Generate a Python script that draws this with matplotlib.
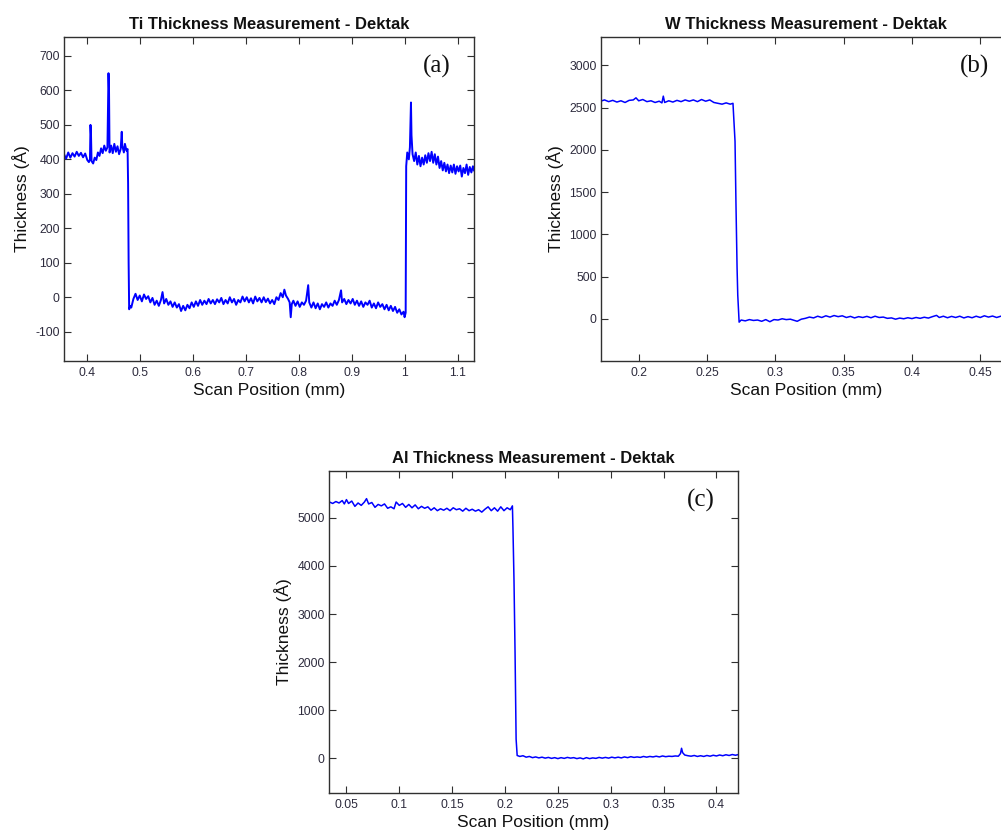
import matplotlib
matplotlib.use("Agg")
import matplotlib.pyplot as plt
from matplotlib.ticker import FixedLocator, FuncFormatter

plt.rcParams['font.family'] = ['Liberation Sans', 'DejaVu Sans']

# ---------------- Ti profile (scan position mm, thickness A) ----------------
ti_x = [0.357, 0.361, 0.365, 0.369, 0.373, 0.377, 0.381, 0.385, 0.389, 0.393,
        0.397, 0.401, 0.404, 0.406, 0.407, 0.408, 0.409, 0.412, 0.415, 0.418,
        0.421, 0.424, 0.427, 0.430, 0.433, 0.436, 0.439, 0.441, 0.442, 0.443,
        0.446, 0.449, 0.452, 0.455, 0.458, 0.461, 0.464, 0.466, 0.467, 0.470,
        0.472, 0.475, 0.477, 0.478, 0.479, 0.480, 0.482,
        0.484, 0.488, 0.492, 0.496, 0.500, 0.504, 0.508, 0.512, 0.516, 0.520,
        0.524, 0.528, 0.532, 0.536, 0.540, 0.543, 0.546, 0.550, 0.554, 0.558,
        0.562, 0.566, 0.570, 0.574, 0.578, 0.582, 0.586, 0.590, 0.594, 0.598,
        0.602, 0.606, 0.610, 0.614, 0.618, 0.622, 0.626, 0.630, 0.634, 0.638,
        0.642, 0.646, 0.650, 0.654, 0.658, 0.662, 0.666, 0.670, 0.674, 0.678,
        0.682, 0.686, 0.690, 0.694, 0.698, 0.702, 0.706, 0.710, 0.714, 0.718,
        0.722, 0.726, 0.730, 0.734, 0.738, 0.742, 0.746, 0.750, 0.754, 0.758,
        0.762, 0.766, 0.770, 0.773, 0.776, 0.780, 0.783, 0.785, 0.787, 0.790,
        0.794, 0.798, 0.802, 0.806, 0.810, 0.814, 0.818, 0.820, 0.824, 0.828,
        0.832, 0.836, 0.840, 0.844, 0.848, 0.852, 0.856, 0.860, 0.864, 0.868,
        0.872, 0.876, 0.880, 0.882, 0.886, 0.890, 0.894, 0.898, 0.902, 0.906,
        0.910, 0.914, 0.918, 0.922, 0.926, 0.930, 0.934, 0.938, 0.942, 0.946,
        0.950, 0.954, 0.958, 0.962, 0.966, 0.970, 0.974, 0.978, 0.982, 0.986,
        0.990, 0.994, 0.998, 1.000, 1.002,
        1.003, 1.005, 1.008, 1.010, 1.012, 1.013, 1.015, 1.018, 1.021, 1.024,
        1.027, 1.030, 1.033, 1.036, 1.039, 1.042, 1.045, 1.048, 1.051, 1.054,
        1.057, 1.060, 1.063, 1.066, 1.069, 1.072, 1.075, 1.078, 1.081, 1.084,
        1.087, 1.090, 1.093, 1.096, 1.099, 1.102, 1.105, 1.108, 1.111, 1.114,
        1.117, 1.120, 1.123, 1.126, 1.129, 1.131]
ti_y = [415, 402, 420, 405, 418, 408, 422, 410, 419, 406,
        417, 398, 392, 400, 500, 470, 395, 388, 405, 398,
        420, 410, 432, 418, 440, 425, 435, 650, 600, 420,
        440, 418, 445, 422, 438, 415, 430, 480, 440, 420,
        445, 425, 430, 330, 100, -35, -25,
        -30, -5, 10, -8, 5, -12, 8, -5, 3, -15,
        -2, -22, -10, -25, -8, 15, -18, -5, -22, -12,
        -28, -15, -30, -20, -40, -25, -38, -22, -32, -15,
        -28, -12, -25, -8, -22, -10, -20, -5, -18, -8,
        -20, -6, -15, -2, -20, -8, -18, 0, -15, -5,
        -22, -8, -15, 2, -12, 0, -15, -3, -18, 2,
        -12, -2, -15, 0, -14, -4, -18, -8, -20, 0,
        -8, 12, 0, 22, 5, -5, -15, -58, -20, -10,
        -25, -12, -28, -15, -22, -10, 35, -15, -30, -15,
        -32, -18, -35, -20, -28, -15, -30, -18, -25, -10,
        -22, -8, 20, -15, -5, -20, -8, -18, -5, -22,
        -10, -25, -12, -28, -15, -22, -10, -30, -18, -32,
        -15, -28, -20, -35, -22, -38, -25, -40, -28, -45,
        -35, -50, -42, -58, -45,
        380, 420, 400, 435, 565, 470, 415, 395, 420, 385,
        410, 380, 405, 385, 412, 390, 418, 395, 422, 390,
        415, 385, 408, 375, 395, 368, 390, 365, 385, 360,
        382, 362, 385, 358, 380, 365, 382, 350, 375, 360,
        385, 355, 378, 362, 380, 368]

# ---------------- W profile ----------------
w_x = [0.172, 0.175, 0.178, 0.181, 0.184, 0.187, 0.190, 0.193, 0.196, 0.198,
       0.200, 0.203, 0.206, 0.209, 0.212, 0.215, 0.217, 0.218, 0.219, 0.222,
       0.225, 0.228, 0.231, 0.234, 0.237, 0.240, 0.243, 0.246, 0.249, 0.252,
       0.255, 0.258, 0.261, 0.264, 0.267, 0.269, 0.2705, 0.2712, 0.2720, 0.2725,
       0.2735, 0.275, 0.278, 0.281, 0.284, 0.287, 0.290, 0.293, 0.296, 0.299,
       0.302, 0.305, 0.308, 0.311, 0.314, 0.316, 0.319, 0.322, 0.325, 0.328,
       0.331, 0.334, 0.337, 0.340, 0.343, 0.346, 0.349, 0.352, 0.355, 0.358,
       0.361, 0.364, 0.367, 0.370, 0.373, 0.376, 0.379, 0.382, 0.385, 0.388,
       0.391, 0.394, 0.397, 0.400, 0.403, 0.406, 0.409, 0.412, 0.415, 0.418,
       0.420, 0.423, 0.426, 0.429, 0.432, 0.435, 0.438, 0.441, 0.444, 0.447,
       0.450, 0.453, 0.456, 0.459, 0.462, 0.465, 0.468, 0.471, 0.474]
w_y = [2575, 2590, 2570, 2585, 2565, 2580, 2560, 2585, 2590, 2615,
       2580, 2595, 2570, 2580, 2560, 2575, 2555, 2635, 2560, 2580,
       2565, 2585, 2570, 2590, 2575, 2590, 2570, 2595, 2575, 2590,
       2560, 2550, 2540, 2555, 2540, 2550, 2100, 1350, 600, 280,
       -40, -15, -25, -10, -20, -15, -30, -10, -35, -10,
       -15, 0, -10, -5, -20, -30, -5, 5, 20, 10,
       30, 15, 35, 20, 38, 25, 35, 15, 28, 10,
       25, 15, 28, 12, 30, 15, 20, 5, 10, -5,
       8, 0, 12, 2, 15, 5, 18, 8, 25, 40,
       15, 30, 12, 28, 15, 30, 10, 25, 12, 30,
       15, 35, 20, 32, 15, 30, 18, 28, 20]

# ---------------- Al profile ----------------
al_x = [0.034, 0.037, 0.040, 0.043, 0.046, 0.048, 0.050, 0.052, 0.055, 0.058,
        0.061, 0.064, 0.067, 0.069, 0.071, 0.074, 0.077, 0.080, 0.083, 0.086,
        0.089, 0.092, 0.095, 0.097, 0.100, 0.103, 0.106, 0.109, 0.112, 0.115,
        0.118, 0.121, 0.124, 0.127, 0.130, 0.133, 0.136, 0.139, 0.142, 0.145,
        0.148, 0.151, 0.154, 0.157, 0.160, 0.163, 0.166, 0.169, 0.172, 0.175,
        0.178, 0.181, 0.184, 0.187, 0.190, 0.193, 0.196, 0.199, 0.202, 0.205,
        0.207, 0.2075, 0.2085, 0.2095, 0.2105, 0.2115, 0.214, 0.217, 0.220, 0.223,
        0.226, 0.229, 0.232, 0.235, 0.238, 0.241, 0.244, 0.247, 0.250, 0.253,
        0.256, 0.259, 0.262, 0.265, 0.268, 0.271, 0.274, 0.277, 0.280, 0.283,
        0.286, 0.289, 0.292, 0.295, 0.298, 0.301, 0.304, 0.307, 0.310, 0.313,
        0.316, 0.319, 0.322, 0.325, 0.328, 0.331, 0.334, 0.337, 0.340, 0.343,
        0.346, 0.349, 0.352, 0.355, 0.358, 0.361, 0.364, 0.366, 0.367, 0.368,
        0.370, 0.373, 0.376, 0.379, 0.382, 0.385, 0.388, 0.391, 0.394, 0.397,
        0.400, 0.403, 0.406, 0.409, 0.412, 0.415, 0.418, 0.420]
al_y = [5330, 5300, 5340, 5310, 5360, 5290, 5380, 5300, 5350, 5240,
        5310, 5260, 5330, 5400, 5290, 5320, 5220, 5280, 5250, 5290,
        5200, 5230, 5190, 5330, 5260, 5300, 5220, 5280, 5210, 5270,
        5190, 5240, 5200, 5230, 5160, 5210, 5150, 5190, 5160, 5200,
        5150, 5210, 5170, 5190, 5140, 5200, 5150, 5180, 5140, 5170,
        5120, 5180, 5230, 5150, 5210, 5140, 5230, 5150, 5210, 5170,
        5250, 4800, 3700, 2200, 400, 60, 40, 55, 25, 40,
        15, 30, 10, 25, 5, 20, 0, 15, -5, 15,
        0, 20, 5, 15, -5, 10, -10, 15, -5, 10,
        0, 20, 5, 20, 5, 25, 10, 25, 10, 30,
        15, 35, 20, 30, 20, 40, 25, 40, 30, 45,
        30, 50, 35, 45, 40, 50, 45, 100, 210, 120,
        70, 55, 45, 60, 40, 55, 40, 60, 45, 65,
        50, 70, 55, 75, 60, 80, 65, 75]

titles = ["Ti Thickness Measurement - Dektak",
          "W Thickness Measurement - Dektak",
          "Al Thickness Measurement - Dektak"]
tags = ["(a)", "(b)", "(c)"]
x_ticks = [[0.4, 0.5, 0.6, 0.7, 0.8, 0.9, 1.0, 1.1],
           [0.2, 0.25, 0.3, 0.35, 0.4, 0.45],
           [0.05, 0.1, 0.15, 0.2, 0.25, 0.3, 0.35, 0.4]]
y_ticks = [[-100, 0, 100, 200, 300, 400, 500, 600, 700],
           [0, 500, 1000, 1500, 2000, 2500, 3000],
           [0, 1000, 2000, 3000, 4000, 5000]]
x_limits = [(0.357, 1.131), (0.1724, 0.4725), (0.0335, 0.4204)]
y_limits = [(-185, 755), (-500, 3335), (-720, 5975)]
profiles = [(ti_x, ti_y), (w_x, w_y), (al_x, al_y)]
line_widths = [1.4, 1.1, 1.1]

W, H = 1001, 833
boxes_px = [(64, 37, 410, 324), (601, 37, 410, 324), (329, 471, 409, 322)]

fig = plt.figure(figsize=(W / 100, H / 100), dpi=100)
fmt = FuncFormatter(lambda v, p: "%g" % round(v, 6))
tick_col = "#2d2b3d"
spine_col = "#303030"

for i in range(3):
    l, t, w, h = boxes_px[i]
    ax = fig.add_axes([l / W, 1 - (t + h) / H, w / W, h / H])
    x, y = profiles[i]
    ax.plot(x, y, color="#0000ff", lw=line_widths[i])
    ax.set_xlim(*x_limits[i])
    ax.set_ylim(*y_limits[i])
    ax.xaxis.set_major_locator(FixedLocator(x_ticks[i]))
    ax.yaxis.set_major_locator(FixedLocator(y_ticks[i]))
    ax.xaxis.set_major_formatter(fmt)
    ax.yaxis.set_major_formatter(fmt)
    ax.tick_params(direction="in", length=5, width=0.8, top=True, right=True,
                   labelsize=8.8, labelcolor=tick_col, color=spine_col)
    ax.tick_params(axis="x", pad=4)
    ax.tick_params(axis="y", pad=3)
    for s in ax.spines.values():
        s.set_color(spine_col)
        s.set_linewidth(1.0)
    ax.set_title(titles[i], fontsize=12, fontweight="bold", pad=6, color="#111111")
    ax.set_xlabel("Scan Position (mm)", fontsize=12.5, labelpad=3.5, color="#111111")
    ax.set_ylabel("Thickness (Å)", fontsize=12.5, labelpad=4, color="#111111")
    ax.text(0.91, 0.91, tags[i], transform=ax.transAxes, ha="center", va="center",
            fontsize=18, family=["Liberation Serif", "DejaVu Serif"], color="#111111")

fig.savefig("out.png", dpi=100)
